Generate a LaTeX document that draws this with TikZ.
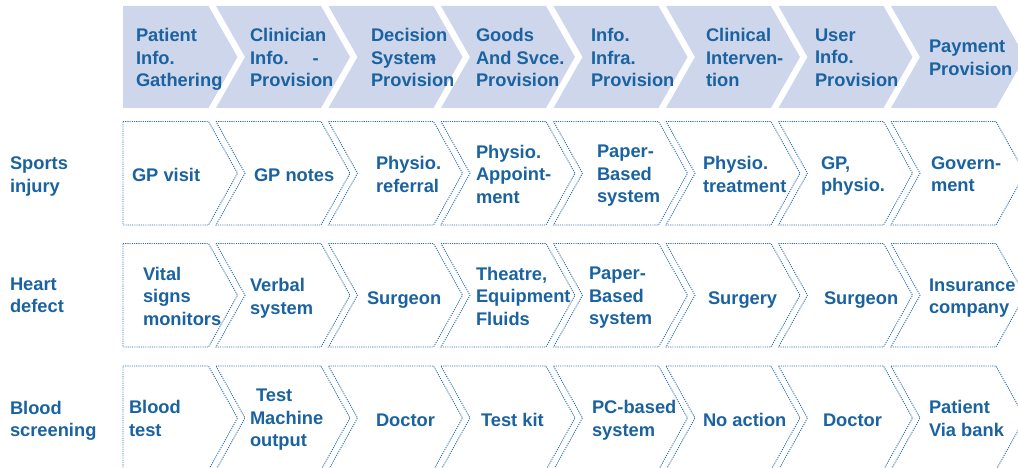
\documentclass[tikz,border=0pt]{standalone}
\usepackage{fontspec}
\setmainfont{Liberation Sans}
\definecolor{txtblue}{HTML}{1A62A0}
\definecolor{lineblue}{HTML}{2A6DAC}
\definecolor{headfill}{HTML}{CED6EC}

% chevron outline: #1 style, #2 left x, #3 top y, #4 bottom y
\newcommand\chevshape[4]{%
  \path[#1] (#2,#3) -- ++(105,0) -- ++(29,{(#4-#3)/2}) -- ++(-29,{(#4-#3)/2})
    -- ++(-105,0) -- ++(29,{-(#4-#3)/2}) -- cycle;}
% first column: flat left side
\newcommand\homeshape[3]{%
  \path[#1] (123,#2) -- (208.5,#2) -- (237.5,{(#2+#3)/2}) -- (208.5,#3)
    -- (123,#3) -- cycle;}

\tikzset{
  headbox/.style={fill=headfill, draw=none},
  cellbox/.style={draw=lineblue, line width=0.9pt, dash pattern=on 1.1pt off 1.1pt},
  txt/.style={anchor=west, inner sep=0pt, outer sep=0pt, align=left, text=txtblue,
    font=\bfseries\fontsize{18.3}{22.5}\selectfont, yshift=-1.5pt,
    execute at begin node=\strut, execute at end node=\strut},
}

\begin{document}
\begin{tikzpicture}[x=1pt, y=-1pt]
\useasboundingbox (0,0) rectangle (1018,468);
\clip (0,0) rectangle (1018,468);

% header band
\homeshape{headbox}{6}{108}
\foreach \i in {0,...,6}{\chevshape{headbox}{216+\i*112.5}{6}{108}}

% three body rows of dotted chevrons
\foreach \t/\b in {121.5/225, 243.5/347, 366/470}{
  \homeshape{cellbox}{\t}{\b}
  \foreach \i in {0,...,6}{\chevshape{cellbox}{216+\i*112.5}{\t}{\b}}
}

% header texts
\node[txt] (h1) at (136,59.5) {Patient\\Info.\\Gathering};
\node[txt] (h2) at (250,59.5) {Clinician\\Info.\hspace{24pt}-\\Provision};
\node[txt] (h3) at (371,59.5) {Decision\\System\llap{-}\\Provision};
\node[txt] (h4) at (476,59.5) {Goods\\And Svce.\\Provision};
\node[txt] (h5) at (591,59.5) {Info.\\Infra.\\Provision};
\node[txt] (h6) at (706,59.5) {Clinical\\Interven-\\tion};
\node[txt] (h7) at (815,59.5) {User\\Info.\\Provision};
\node[txt] (h8) at (929,59.5) {Payment\\Provision};

% row labels
\node[txt] (l1) at (10,176.5) {Sports\\injury};
\node[txt] (l2) at (10,297) {Heart\\defect};
\node[txt] (l3) at (10,420.5) {Blood\\screening};

% sports injury
\node[txt] (a1) at (132,176) {GP visit};
\node[txt] (a2) at (254,176) {GP notes};
\node[txt] (a3) at (376,176) {Physio.\\referral};
\node[txt] (a4) at (476,176) {Physio.\\Appoint-\\ment};
\node[txt] (a5) at (597,176) {Paper-\\Based\\system};
\node[txt] (a6) at (703,176) {Physio.\\treatment};
\node[txt] (a7) at (821,176) {GP,\\physio.};
\node[txt] (a8) at (931,176) {Govern-\\ment};

% heart defect
\node[txt] (b1) at (143,298) {Vital\\signs\\monitors};
\node[txt] (b2) at (250,298) {Verbal\\system};
\node[txt] (b3) at (367,298) {Surgeon};
\node[txt] (b4) at (476,298) {Theatre,\\Equipment\\Fluids};
\node[txt] (b5) at (589,298) {Paper-\\Based\\system};
\node[txt] (b6) at (708,298) {Surgery};
\node[txt] (b7) at (824,298) {Surgeon};
\node[txt] (b8) at (929,298) {Insurance\\company};

% blood screening
\node[txt] (c1) at (129,420) {Blood\\test};
\node[txt] (c2) at (250,420) {\hspace*{6pt}Test\\Machine\\output};
\node[txt] (c3) at (376,420) {Doctor};
\node[txt] (c4) at (481,420) {Test kit};
\node[txt] (c5) at (592,420) {PC-based\\system};
\node[txt] (c6) at (703,420) {No action};
\node[txt] (c7) at (823,420) {Doctor};
\node[txt] (c8) at (929,420) {Patient\\Via bank};
\end{tikzpicture}
\end{document}
